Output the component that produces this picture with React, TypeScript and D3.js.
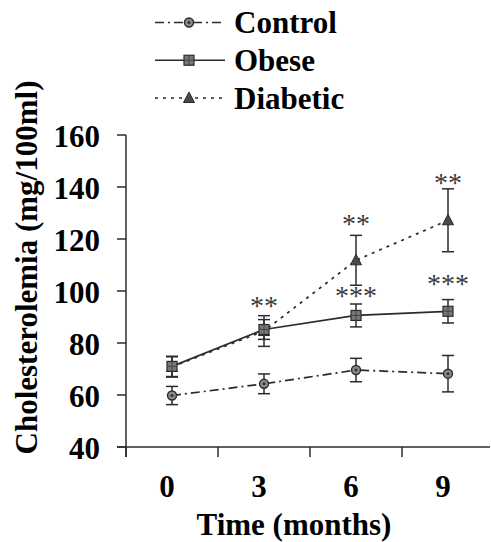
import React from "react";
import * as d3 from "d3";

// --- data ---
const times = ["0", "3", "6", "9"];
const controlMean = [59.8, 64.3, 69.6, 68.2];
const controlErr = [3.5, 3.8, 4.5, 7.0];
const obeseMean = [71.0, 85.2, 90.6, 92.2];
const obeseErr = [3.9, 3.8, 4.4, 4.5];
const diabeticMean = [70.8, 84.6, 111.8, 127.2];
const diabeticErr = [3.9, 5.9, 9.6, 12.1];

// significance marks: time, y position (in mg/100ml), label
const sigTimes = ["3", "6", "6", "9", "9"];
const sigValues = [96.5, 128.2, 100.4, 144.0, 104.9];
const sigLabels = ["**", "**", "***", "**", "***"];

const yTicks = [40, 60, 80, 100, 120, 140, 160];
const legendNames = ["Control", "Obese", "Diabetic"];

const W = 491;
const H = 542;
const INK = "#2b2b2b";
const FONT = "Liberation Serif";

type Kind = "circle" | "square" | "triangle";

function Marker({ kind, x, y }: { kind: Kind; x: number; y: number }) {
  if (kind === "circle") {
    return (
      <g>
        <circle cx={x} cy={y} r={4.5} fill="#8a8a8a" stroke={INK} strokeWidth={1.4} />
        <circle cx={x} cy={y} r={1.5} fill="#333" />
      </g>
    );
  }
  if (kind === "square") {
    return (
      <g>
        <rect x={x - 5} y={y - 5} width={10} height={10} fill="#777" stroke={INK} strokeWidth={1.2} />
        <path d={`M${x - 5},${y} H${x + 5} M${x},${y - 5} V${y + 5}`} stroke="#444" strokeWidth={1} />
      </g>
    );
  }
  return (
    <path
      d={`M${x},${y - 6} L${x + 5.5},${y + 4.5} L${x - 5.5},${y + 4.5} Z`}
      fill="#4a4a4a"
      stroke={INK}
      strokeWidth={1}
    />
  );
}

const bold = { fontFamily: FONT, fontWeight: 700, fontSize: 31, fill: "#000" } as const;

export default function App() {
  const x = d3.scaleBand<string>().domain(times).range([126, 494]).padding(0);
  const y = d3.scaleLinear().domain([40, 160]).range([447, 135]);
  const cx = (t: string) => (x(t) as number) + x.bandwidth() / 2;

  const series = [
    { name: "Control", mean: controlMean, err: controlErr, kind: "circle" as Kind, dash: "9,4,2,4" },
    { name: "Obese", mean: obeseMean, err: obeseErr, kind: "square" as Kind, dash: "" },
    { name: "Diabetic", mean: diabeticMean, err: diabeticErr, kind: "triangle" as Kind, dash: "3,5" },
  ];

  const line = d3
    .line<number>()
    .x((_, i) => cx(times[i]))
    .y((d) => y(d));

  const legendY = d3.scalePoint<string>().domain(legendNames).range([22.5, 98]);

  return (
    <div style={{ position: "absolute", left: 0, top: 0 }}>
      <svg width={W} height={H} style={{ display: "block", background: "#fff", fontFamily: FONT }}>
        {/* legend */}
        {series.map((s) => {
          const ly = legendY(s.name) as number;
          return (
            <g key={s.name}>
              <line x1={155} x2={225} y1={ly} y2={ly} stroke={INK} strokeWidth={1.6} strokeDasharray={s.dash || undefined} />
              <Marker kind={s.kind} x={189} y={ly} />
              <text x={234} y={ly + 10.5} style={bold}>
                {s.name}
              </text>
            </g>
          );
        })}

        {/* y axis */}
        <line x1={126} x2={126} y1={y(160)} y2={457} stroke={INK} strokeWidth={1.5} />
        {yTicks.map((t) => (
          <g key={t}>
            <line x1={117} x2={126} y1={y(t)} y2={y(t)} stroke={INK} strokeWidth={1.5} />
            <text x={100} y={y(t) + 12} textAnchor="end" style={bold}>
              {t}
            </text>
          </g>
        ))}

        {/* x axis */}
        <line x1={117} x2={490} y1={y(40)} y2={y(40)} stroke={INK} strokeWidth={1.5} />
        {times.map((t) => (
          <g key={t}>
            <line x1={x(t) as number} x2={x(t) as number} y1={y(40)} y2={457} stroke={INK} strokeWidth={1.5} />
            <text x={cx(t) - 5} y={497} textAnchor="middle" style={bold}>
              {t}
            </text>
          </g>
        ))}

        <text x={294} y={535} textAnchor="middle" style={bold}>
          Time (months)
        </text>
        <text transform={`translate(37,${(80 + 455) / 2}) rotate(-90)`} textAnchor="middle" style={bold}>
          Cholesterolemia (mg/100ml)
        </text>

        {/* lines */}
        {series.map((s) => (
          <path
            key={s.name}
            d={line(s.mean) || ""}
            fill="none"
            stroke={INK}
            strokeWidth={1.7}
            strokeDasharray={s.dash || undefined}
          />
        ))}

        {/* error bars */}
        {series.map((s) =>
          s.mean.map((m, i) => {
            const px = cx(times[i]);
            const top = y(m + s.err[i]);
            const bot = y(m - s.err[i]);
            return (
              <g key={s.name + i} stroke={INK} strokeWidth={1.5}>
                <line x1={px} x2={px} y1={top} y2={bot} />
                <line x1={px - 6} x2={px + 6} y1={top} y2={top} />
                <line x1={px - 6} x2={px + 6} y1={bot} y2={bot} />
              </g>
            );
          })
        )}

        {/* markers: diabetic first so obese squares sit on top at t=0 */}
        {[series[2], series[0], series[1]].map((s) =>
          s.mean.map((m, i) => <Marker key={s.name + i} kind={s.kind} x={cx(times[i])} y={y(m)} />)
        )}

        {/* significance asterisks */}
        {sigLabels.map((lab, i) => (
          <text
            key={i}
            x={cx(sigTimes[i])}
            y={y(sigValues[i]) + 15}
            textAnchor="middle"
            style={{ fontFamily: FONT, fontSize: 28, fill: "#3a3a3a" }}
          >
            {lab}
          </text>
        ))}
      </svg>
    </div>
  );
}
